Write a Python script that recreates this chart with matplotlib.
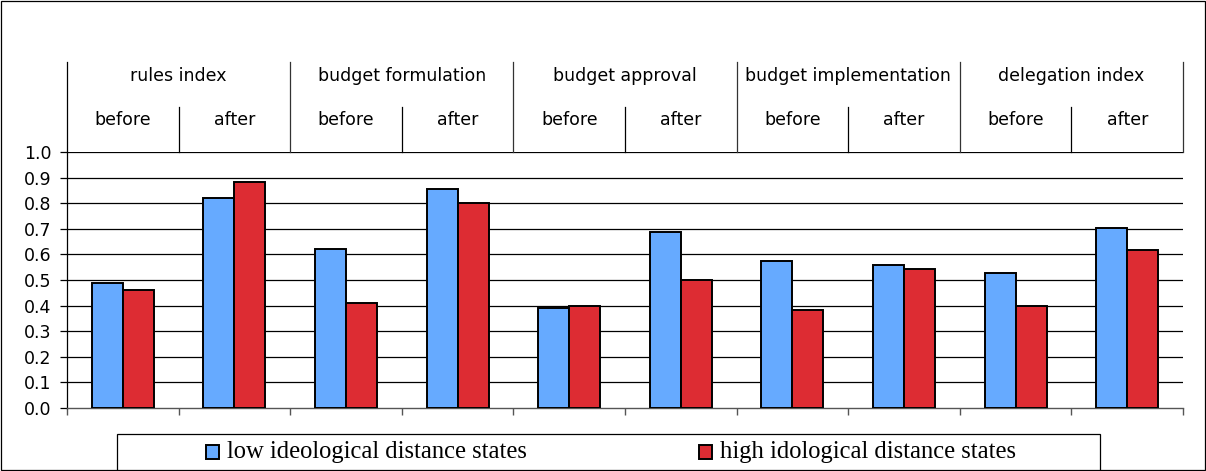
import matplotlib
matplotlib.use('Agg')
import matplotlib.pyplot as plt
from matplotlib.patches import Rectangle
import numpy as np

groups = ['rules index', 'budget formulation', 'budget approval',
          'budget implementation', 'delegation index']
periods = ['before', 'after']
low = [0.490, 0.820, 0.622, 0.855, 0.390, 0.689, 0.573, 0.557, 0.527, 0.702]
high = [0.462, 0.883, 0.411, 0.802, 0.400, 0.499, 0.384, 0.544, 0.400, 0.616]
series_names = ['low ideological distance states', 'high idological distance states']
yticks = [0.0, 0.1, 0.2, 0.3, 0.4, 0.5, 0.6, 0.7, 0.8, 0.9, 1.0]

W, H = 1206, 471
fig = plt.figure(figsize=(W / 100, H / 100), dpi=100)
ax = fig.add_axes([67 / W, 1 - 408 / H, (1183 - 67) / W, 256 / H])

blue = '#66AAFF'
red = '#DD2C33'
x = np.arange(len(low))
bw = 0.278
ax.bar(x - bw / 2, low, bw, color=blue, edgecolor='black', linewidth=1.4, zorder=3)
ax.bar(x + bw / 2, high, bw, color=red, edgecolor='black', linewidth=1.4, zorder=3)

ax.set_xlim(-0.5, len(low) - 0.5)
ax.set_ylim(0, 1)
for yv in yticks[1:]:
    ax.axhline(yv, color='black', lw=0.9, zorder=1)

for s in ['top', 'right']:
    ax.spines[s].set_visible(False)
ax.spines['left'].set_color('black')
ax.spines['left'].set_linewidth(0.9)
ax.spines['bottom'].set_color('#555555')
ax.spines['bottom'].set_linewidth(1.0)

ax.set_yticks(yticks)
ax.set_yticklabels([f'{v:.1f}' for v in yticks], family='DejaVu Sans', fontsize=12.5)
ax.set_xticks(np.arange(-0.5, len(low), 1))
ax.set_xticklabels([])
ax.tick_params(axis='x', length=5, color='#555555', width=1.0, direction='out')
ax.tick_params(axis='y', length=5, pad=6, color='black', width=0.9, direction='out')

# header
tr = ax.get_xaxis_transform()
ytop = (408 - 62) / 256
ysub = (408 - 107) / 256
for k in range(len(groups) + 1):
    xx = -0.5 + 2 * k
    col = 'black' if k == 0 else '#333333'
    ax.plot([xx, xx], [1, ytop], transform=tr, color=col, lw=0.9, clip_on=False)
for k in range(len(groups)):
    xx = 0.5 + 2 * k
    ax.plot([xx, xx], [1, ysub], transform=tr, color='black', lw=0.9, clip_on=False)
    ax.text(2 * k + 0.5, (408 - 76) / 256, groups[k], transform=tr, ha='center',
            va='center', fontsize=12.5, family='DejaVu Sans', clip_on=False)
    for j, p in enumerate(periods):
        ax.text(2 * k + j, (408 - 120) / 256, p, transform=tr, ha='center',
                va='center', fontsize=12.5, family='DejaVu Sans', clip_on=False)

# outer border
fig.add_artist(Rectangle((1 / W, 1 / H), (W - 2) / W, (H - 2) / H, fill=False,
                         edgecolor='black', lw=0.9, transform=fig.transFigure))

# legend
fig.add_artist(Rectangle((117 / W, 0), (1100 - 117) / W, (H - 434) / H, fill=False,
                         edgecolor='black', lw=0.9, transform=fig.transFigure))
for mx, tx, col, name in [(206, 227, blue, series_names[0]), (699, 720, red, series_names[1])]:
    fig.add_artist(Rectangle((mx / W, (H - 459) / H), 13 / W, 14 / H, facecolor=col,
                             edgecolor='black', lw=1.4, transform=fig.transFigure))
    fig.text(tx / W, (H - 452) / H, name, ha='left', va='center',
             family='Liberation Serif', fontsize=17.7)

fig.savefig('out.png', dpi=100)
